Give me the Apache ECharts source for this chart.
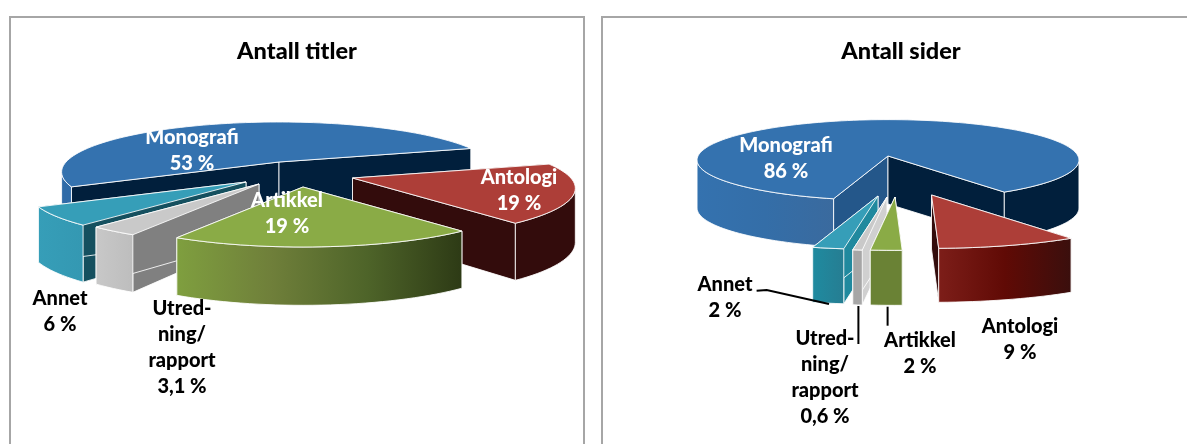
<!DOCTYPE html>
<html><head><meta charset="utf-8">
<style>html,body{margin:0;padding:0;background:#fff;overflow:hidden}#c{width:1187px;height:444px}</style>
<script src="https://cdn.jsdelivr.net/npm/echarts@6/dist/echarts.min.js"></script>
</head><body><div id="c"></div>
<script>
// ---- data ----
const categories = ['Monografi', 'Antologi', 'Artikkel', 'Utred-\nning/\nrapport', 'Annet'];
const titlerValues = [53, 19, 19, 3.1, 6];
const siderValues = [86, 9, 2, 0.6, 2];
const chartTitles = ['Antall titler', 'Antall sider'];

// ---- layout and styling ----
const grad = stops => new echarts.graphic.LinearGradient(0, 0, 1, 0,
  stops.map((c, i) => ({ offset: i / (stops.length - 1), color: c })));
const FONT = 'Lato, Carlito, "Open Sans", sans-serif';

const panels = [
  {
    values: titlerValues, cx: 279, cy: 162, R: 213, Rk: 48, p: 0.2, dGain: 0.1, start: 152,
    order: [0, 1, 4, 3, 2], titleX: 292,
    depth: [53, 53, 53, 53, 53],
    shift: [[0, 0], [73.5, 16], [24, 25], [-20, 22], [-33, 20]],
    scale: [1, 1.025, 1, 1, 1],
    faces: [
      { top: '#3472AF', walls: ['#2F6BA8'], cutA: '#011F3C', cutB: '#011F3C' },
      { top: '#AD3E38', walls: ['#330C0C'], cutA: '#330C0C', cutB: '#330C0C' },
      { top: '#8AAB46', walls: [['#7F9F3F', '#6F7F3A', '#4E6429', '#2D3A15']], cutA: '#4E6429', cutB: '#4E6429' },
      { top: '#C9C9C9', walls: [['#C8C8C8', '#BDBDBD']], cutA: '#808080', cutB: '#808080' },
      { top: '#369EB8', walls: [['#369EB8', '#3498B2']], cutA: '#15505F', cutB: '#15505F' }
    ],
    labels: [
      { i: 0, x: 192, y: 151, color: '#fff' }, { i: 1, x: 519, y: 191, color: '#fff' },
      { i: 2, x: 287, y: 214, color: '#fff' }, { i: 3, x: 182, y: 348, color: '#000' },
      { i: 4, x: 60, y: 312, color: '#000' }
    ],
    leaders: []
  },
  {
    values: siderValues, cx: 888, cy: 156, R: 190, Rk: 40, p: 0.1, dGain: 0, start: 105,
    order: [0, 1, 4, 3, 2], titleX: 896,
    depth: [48, 54, 55, 55, 55],
    shift: [[0, 0], [43.5, 39], [7, 41], [-1, 41], [-10, 40]],
    scale: [1, 1.2, 1.2, 1.2, 1.2],
    faces: [
      { top: '#3472AF', walls: [['#3472AF', '#346EA8', '#3A6A9E'], '#011F3C'], cutA: '#24578A', cutB: '#011F3C' },
      { top: '#AD3E38', walls: [['#7D1E19', '#600A05', '#3A0F0D']], cutA: '#330C0C', cutB: '#330C0C' },
      { top: '#8AAB46', walls: ['#6A8235'], cutA: '#6A8235', cutB: '#6A8235' },
      { top: '#C9C9C9', walls: ['#A6A6A6'], cutA: '#D0D0D0', cutB: '#D0D0D0' },
      { top: '#369EB8', walls: [['#1F8BA0', '#267D92']], cutA: '#20899E', cutB: '#20899E' }
    ],
    labels: [
      { i: 0, x: 786, y: 159, color: '#fff' }, { i: 1, x: 1020, y: 340, color: '#000' },
      { i: 2, x: 920, y: 354, color: '#000' }, { i: 3, x: 825, y: 378, color: '#000' },
      { i: 4, x: 725, y: 298, color: '#000' }
    ],
    leaders: [
      [[756.6, 290.7], [766.7, 290], [829, 304]],
      [[858.4, 306], [858.4, 344]],
      [[887.6, 306.7], [887.6, 325.7]]
    ]
  }
];

const EDGE = 'rgba(255,255,255,0.85)';
const rad = d => d * Math.PI / 180;

function renderSlice(panel, params, api) {
  const i = params.dataIndex;
  const total = panel.values.reduce((a, b) => a + b, 0);
  let a0 = panel.start;
  for (let k = 0; k < i; k++) a0 += panel.values[k] / total * 360;
  const a1 = a0 + api.value(0) / total * 360;

  const sc = panel.scale[i];
  const ax = panel.cx + panel.shift[i][0];
  const ay = panel.cy + panel.shift[i][1];
  const top = t => {
    const x = Math.cos(rad(t)), y = Math.sin(rad(t)), s = 1 / (1 - panel.p * y);
    return [ax + panel.R * sc * x * s, ay + panel.Rk * sc * y * s];
  };
  const drop = t => panel.depth[i] * (1 + panel.dGain * Math.sin(rad(t)));
  const low = t => { const q = top(t); return [q[0], q[1] + drop(t)]; };
  const arc = (f, from, to) => {
    const pts = [], n = Math.max(2, Math.ceil(Math.abs(to - from) / 2));
    for (let k = 0; k <= n; k++) pts.push(f(from + (to - from) * k / n));
    return pts;
  };

  const face = panel.faces[i];
  const rank = panel.order.indexOf(i) * 10 + 10;
  const poly = (points, fill, z2) => ({
    type: 'polygon', z2: rank + z2, shape: { points },
    style: { fill, stroke: EDGE, lineWidth: 1 }, silent: true
  });
  const children = [];
  const apexLow = [ax, ay + panel.depth[i]];

  children.push(poly([[ax, ay], apexLow, low(a0), top(a0)], face.cutA, 0));
  children.push(poly([[ax, ay], apexLow, low(a1), top(a1)], face.cutB, 0));

  // rim wall: the part between the silhouette angles, where sin(t) = p
  const edge = Math.asin(panel.p) * 180 / Math.PI;
  let wallIndex = 0;
  for (let base = -360; base <= 360; base += 360) {
    const from = Math.max(a0, base + edge), to = Math.min(a1, base + 180 - edge);
    if (to > from) {
      const c = face.walls[Math.min(wallIndex, face.walls.length - 1)];
      wallIndex++;
      const pts = arc(top, from, to).concat(arc(low, to, from));
      children.push(poly(pts, Array.isArray(c) ? grad(c) : c, 2));
    }
  }
  const pts = [[ax, ay]].concat(arc(top, a0, a1));
  children.push(poly(pts, face.top, 4));
  return { type: 'group', children };
}

const fmt = v => String(v).replace('.', ',') + ' %';
const graphics = [
  { type: 'rect', z: 0, silent: true, shape: { x: 10, y: 17, width: 574, height: 460 }, style: { fill: 'none', stroke: '#A6A6A6', lineWidth: 2 } },
  { type: 'rect', z: 0, silent: true, shape: { x: 602, y: 17, width: 640, height: 460 }, style: { fill: 'none', stroke: '#A6A6A6', lineWidth: 2 } }
];
panels.forEach(panel => {
  panel.leaders.forEach(points => graphics.push({
    type: 'polyline', z: 50, silent: true, shape: { points },
    style: { stroke: '#000', lineWidth: 2, fill: 'none' }
  }));
  panel.labels.forEach(l => graphics.push({
    type: 'text', z: 60, silent: true, x: l.x, y: l.y,
    style: {
      text: categories[l.i] + '\n' + fmt(panel.values[l.i]),
      fill: l.color, font: '900 20px ' + FONT, lineHeight: 26,
      textAlign: 'center', textVerticalAlign: 'middle'
    }
  }));
});

const chart = echarts.init(document.getElementById('c'), null, { renderer: 'canvas' });
chart.setOption({
  animation: false,
  backgroundColor: '#fff',
  title: chartTitles.map((t, k) => ({
    text: t, left: panels[k].titleX, top: 34, textAlign: 'center',
    textStyle: { fontFamily: FONT, fontWeight: 900, fontSize: 23.5, color: '#000' }
  })),
  graphic: graphics,
  series: panels.map(panel => ({
    type: 'custom', coordinateSystem: 'none', silent: true, z: 2,
    data: panel.values.map((v, i) => ({ name: categories[i], value: [v] })),
    renderItem: (params, api) => renderSlice(panel, params, api)
  }))
});
</script></body></html>
